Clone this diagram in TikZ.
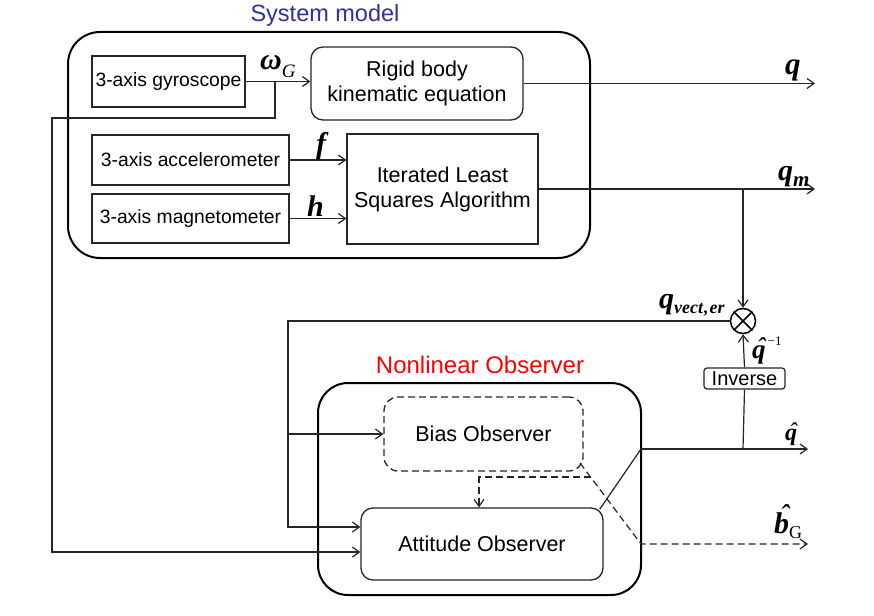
\documentclass[tikz,border=0pt]{standalone}
\usepackage{fontspec}
\setmainfont{Liberation Sans}
\newfontfamily\tms{Liberation Serif}
\usetikzlibrary{arrows.meta,calc}
\definecolor{sysblue}{RGB}{48,48,160}
\newcommand\symf[1][30]{\tms\bfseries\itshape\fontsize{#1}{#1}\selectfont}
\newcommand\subf[1][19]{\tms\mdseries\itshape\fontsize{#1}{#1}\selectfont}
\newcommand\subbf[1][18]{\tms\bfseries\itshape\fontsize{#1}{#1}\selectfont}
\newcommand\hatq{\ooalign{q\cr\hidewidth\kern0.14em\raisebox{0.04em}{\mdseries\char"02C6}\hidewidth\cr}}
\newcommand\hatb{\ooalign{b\cr\hidewidth\kern0.18em\raisebox{0.26em}{\mdseries\char"02C6}\hidewidth\cr}}
\begin{document}
\begin{tikzpicture}[x=1pt,y=-1pt,
  outer/.style={draw, line width=2pt, rounded corners=32pt},
  blk/.style={draw=black!85, line width=1.3pt, inner sep=2pt, align=center,
    font=\fontsize{21.5}{25}\selectfont},
  sens/.style={draw=black!85, line width=1.3pt, inner sep=2pt,
    font=\fontsize{19.3}{22}\selectfont},
  conn/.style={line width=1.2pt, draw=black!85},
  arr/.style={conn, -{Straight Barb[length=7pt,width=10pt]}},
  darr/.style={arr, dash pattern=on 7pt off 4pt},
  lbl/.style={inner sep=0pt, anchor=base west}]
\useasboundingbox (0,0) rectangle (874,615);
\fill[white] (0,0) rectangle (874,615);

% System model
\node[outer, minimum width=522pt, minimum height=226pt] (sys) at (329,145) {};
\node[anchor=base, text=sysblue, font=\fontsize{23.5}{26}\selectfont] (systitle) at (325,22) {System model};
\node[sens, minimum width=153pt, minimum height=51pt] (gyro) at (168.5,81.5) {3-axis gyroscope};
\node[blk, rounded corners=12pt, minimum width=212pt, minimum height=73pt] (rigid) at (417,83.5) {Rigid body\\kinematic equation};
\node[sens, minimum width=197pt, minimum height=50pt] (acc) at (190.5,160) {3-axis accelerometer};
\node[sens, minimum width=197pt, minimum height=49pt] (mag) at (190.5,218.5) {3-axis magnetometer};
\node[blk, minimum width=191pt, minimum height=110pt] (ils) at (442.5,189) {Iterated Least\\Squares Algorithm};

% Nonlinear observer
\node[outer, rounded corners=30pt, minimum width=323pt, minimum height=212pt] (nl) at (479.5,489) {};
\node[anchor=base, text=red, font=\fontsize{24}{26}\selectfont] (nltitle) at (480,373) {Nonlinear Observer};
\node[blk, rounded corners=14pt, dash pattern=on 7pt off 4pt, minimum width=199pt, minimum height=74pt] (bias) at (483.5,434) {Bias Observer};
\node[blk, rounded corners=12pt, minimum width=242pt, minimum height=72pt] (att) at (482,544) {Attitude Observer};

% multiplier and inverse
\node[draw, circle, line width=1.5pt, minimum size=25pt, inner sep=0pt] (mult) at (743,321) {};
\draw[line width=1.5pt] (mult.north west) -- (mult.south east) (mult.north east) -- (mult.south west);
\node[draw=black!85, line width=1.2pt, rounded corners=3pt, inner sep=1.5pt, minimum width=81pt, minimum height=21pt,
  font=\fontsize{20}{20}\selectfont] (inv) at (744.5,378.5) {Inverse};

% coordinates
\coordinate (wb) at (275,81.5);
\coordinate (fb2) at (52,118);
\coordinate (fb3) at (52,552);
\coordinate (qend) at (815,83.5);
\coordinate (qmend) at (815,189);
\coordinate (qmb) at (743,189);
\coordinate (fl1) at (288,321);
\coordinate (fl2) at (288,527);
\coordinate (fl3) at (288,434);
\coordinate (qh0) at (641,449);
\coordinate (qhb) at (743,449);
\coordinate (qhend) at (808,449);
\coordinate (bs) at (580,463);
\coordinate (bg1) at (641,544);
\coordinate (bgend) at (808,544);
\coordinate (db1) at (590.5,477);
\coordinate (db2) at (479,477);

% connectors
\draw[arr] (gyro.east) -- (gyro.east -| rigid.west);
\draw[arr] (wb) |- (fb2) -- (fb3) -- (fb3 -| att.west);
\draw[arr] (rigid.east) -- (qend);
\draw[arr] (acc.east) -- (acc.east -| ils.west);
\draw[arr] (mag.east) -- (mag.east -| ils.west);
\draw[arr] (ils.east) -- (qmend);
\draw[arr] (qmb) -- (mult.north);
\draw[arr] (mult.west) -- (fl1) -- (fl2) -- (fl2 -| att.west);
\draw[arr] (fl3) -- (bias.west);
\draw[conn] ([xshift=-4pt,yshift=-2pt]att.north east) -- (qh0);
\draw[arr] (qh0) -- (qhend);
\draw[conn] (qhb) -- (inv.south);
\draw[arr] (inv.north) -- (mult.south);
\draw[darr] (bs) -- (bg1) -- (bgend);
\draw[darr] (db1) -- (db2) -- (db2 |- att.north);

% labels
\node[lbl] (lw) at (260,70) {\symf ω\raisebox{-8pt}{\subf G}};
\node[lbl] (lf) at (316,153) {\symf f};
\node[lbl] (lh) at (307,216) {\symf h};
\node[lbl] (lq) at (785,75) {\symf[31]q};
\node[lbl] (lqm) at (778,180) {\symf q\raisebox{-6pt}{\subbf[21]m}};
\node[lbl] (lqv) at (659,308) {\symf q\raisebox{-5pt}{\subbf vect\kern1pt,\kern1pt er}};
\node[lbl] (lqi) at (752,358) {\symf[27]\hatq\kern2pt\raisebox{13pt}{\tms\mdseries\upshape\fontsize{13}{13}\selectfont −1}};
\node[lbl] (lqh) at (785,440) {\symf[24]\hatq};
\node[lbl] (lbg) at (774,533) {\symf\hatb\raisebox{-5pt}{\tms\mdseries\upshape\fontsize{18}{18}\selectfont G}};
\end{tikzpicture}
\end{document}
